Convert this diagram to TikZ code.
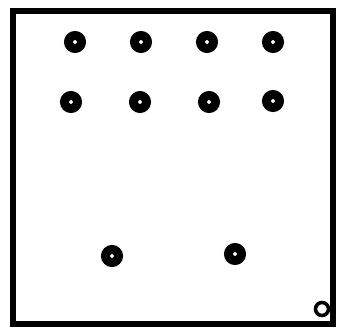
\documentclass[tikz,border=0pt]{standalone}

\begin{document}
\begin{tikzpicture}[x=1pt, y=-1pt,
  hole/.style={circle, draw, line width=9pt, minimum size=13pt, inner sep=0pt},
  ring/.style={circle, draw, line width=3.5pt, minimum size=13pt, inner sep=0pt}]
  \useasboundingbox (0,0) rectangle (345,334);
  \coordinate (A) at (13,11);
  \coordinate (B) at (333,11);
  \coordinate (C) at (333,324);
  \coordinate (D) at (13,324);
  \draw[line width=6pt, line join=miter] (A) -- (B) -- (C) -- (D) -- cycle;
  % upper row
  \node[hole] (a1) at (75,42) {};
  \node[hole] (a2) at (141,42) {};
  \node[hole] (a3) at (207,42) {};
  \node[hole] (a4) at (273,42) {};
  % second row
  \node[hole] (b1) at (71,102) {};
  \node[hole] (b2) at (140,102) {};
  \node[hole] (b3) at (209,102) {};
  \node[hole] (b4) at (273,101) {};
  % lower pair
  \node[hole] (c1) at (112,256) {};
  \node[hole] (c2) at (235,254) {};
  \node[ring] (e) at (322,309) {};
\end{tikzpicture}
\end{document}
